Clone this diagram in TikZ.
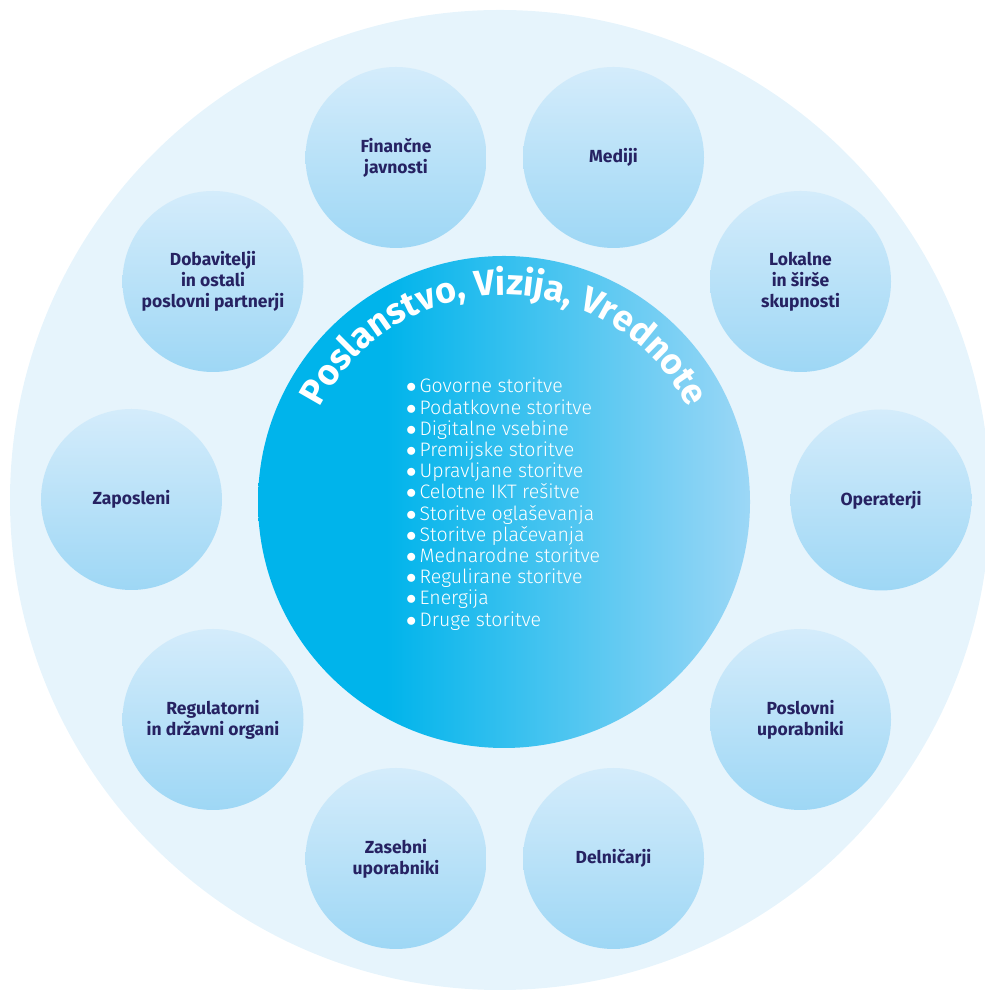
\documentclass[tikz,border=0pt]{standalone}
\usepackage{fontspec}
\setmainfont{Fira Sans}
\IfFontExistsTF{Fira Sans Light}{\newfontfamily\listfont{Fira Sans Light}}{\newfontfamily\listfont{Fira Sans}}
\usetikzlibrary{decorations.text}
\definecolor{ringbg}{HTML}{E6F4FC}
\definecolor{grouptop}{HTML}{D4ECFB}
\definecolor{groupbot}{HTML}{9ED7F5}
\definecolor{coredark}{HTML}{00B4EB}
\definecolor{corelight}{HTML}{9CD7F6}
\definecolor{navy}{HTML}{262262}
\pgfdeclarehorizontalshading{coreshade}{100bp}{color(0bp)=(coredark); color(25bp)=(coredark);
  color(38bp)=(coredark); color(75bp)=(corelight); color(100bp)=(corelight)}
\newcommand{\pika}{$\bullet$\hspace{3pt}}
\tikzset{
  ring/.style={circle, fill=ringbg, minimum size=980pt, inner sep=0pt},
  core/.style={circle, shading=coreshade, minimum size=492pt, inner sep=0pt},
  group/.style={circle, top color=grouptop, bottom color=groupbot, minimum size=181pt,
    inner sep=0pt, align=center, text=navy, font=\bfseries\fontsize{17.5}{21}\selectfont},
  offer/.style={align=left, text=white, inner sep=0pt, font=\listfont\fontsize{19.5}{21.2}\selectfont}
}

\begin{document}
\begin{tikzpicture}[x=1pt, y=1pt]
\useasboundingbox (0,0) rectangle (984,992);

% ---- ozadje ----
\node[ring] (ring) at (500,492) {};

% ---- deleznike (krog okoli jedra) ----
\node[group] (financne) at (396,834.5) {Finančne\\javnosti};
\node[group] (mediji) at (613.5,834.5) {Mediji};
\node[group] (lokalne) at (800.5,710.5) {Lokalne\\in širše\\skupnosti};
\node[group] (operaterji) at (881,492) {Operaterji};
\node[group] (poslovni) at (800.5,272.5) {Poslovni\\uporabniki};
\node[group] (delnicarji) at (613.5,133.5) {Delničarji};
\node[group] (zasebni) at (396,133.5) {Zasebni\\uporabniki};
\node[group] (regulatorni) at (213,272.5) {Regulatorni\\in državni organi};
\node[group] (zaposleni) at (131.5,492.5) {Zaposleni};
\node[group] (dobavitelji) at (213,710.5) {Dobavitelji\\in ostali\\poslovni partnerji};

% ---- jedro ----
\node[core] (core) at (504,490) {};
\path[decorate, decoration={text along path, text align=center, text color=white,
    text={|\bfseries\fontsize{36}{36}\selectfont|Poslanstvo, Vizija, Vrednote}}]
  (core.center) ++(160:207pt) arc[start angle=160, end angle=20, radius=207pt];

\node[offer, anchor=north west] (storitve) at (406,614) {\pika Govorne storitve\\
\pika Podatkovne storitve\\
\pika Digitalne vsebine\\
\pika Premijske storitve\\
\pika Upravljane storitve\\
\pika Celotne IKT rešitve\\
\pika Storitve oglaševanja\\
\pika Storitve plačevanja\\
\pika Mednarodne storitve\\
\pika Regulirane storitve\\
\pika Energija\\
\pika Druge storitve};

\end{tikzpicture}
\end{document}
